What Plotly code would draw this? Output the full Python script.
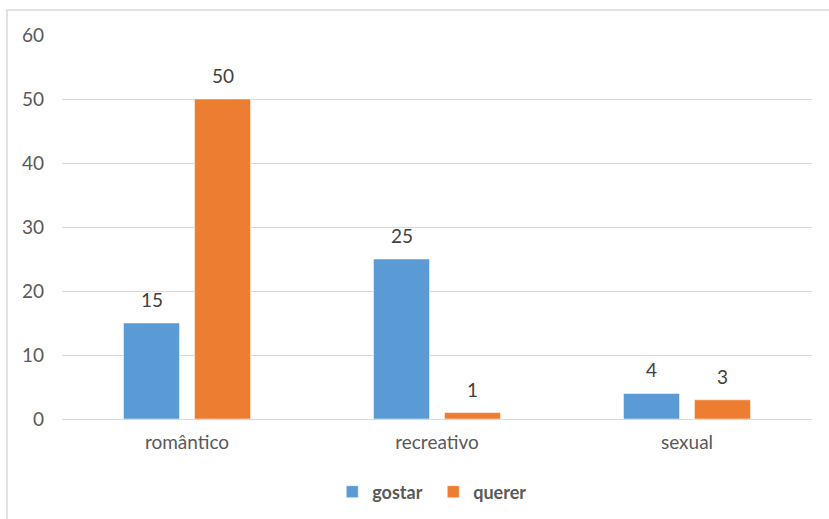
import plotly.graph_objects as go

categories = ["romântico", "recreativo", "sexual"]
gostar = [15, 25, 4]
querer = [50, 1, 3]
y_ticks = [0, 10, 20, 30, 40, 50, 60]

FONT = "Lato"
TEXT_COLOR = "#595959"
LABEL_COLOR = "#404040"
SIZE = 19

fig = go.Figure()
fig.add_trace(go.Bar(
    name="gostar", x=categories, y=gostar,
    marker=dict(color="#5B9BD5", line=dict(color="#ffffff", width=0.5)),
))
fig.add_trace(go.Bar(
    name="querer", x=categories, y=querer,
    marker=dict(color="#ED7D31", line=dict(color="#ffffff", width=0.5)),
))

# value labels above each bar, offset to the bar's slot within the group
for values, shift in ((gostar, -35.5), (querer, 35.5)):
    for cat, v in zip(categories, values):
        fig.add_annotation(
            x=cat, y=v, text=str(v), showarrow=False,
            xshift=shift, yshift=10, yanchor="bottom",
            font=dict(family=FONT, size=SIZE, color=LABEL_COLOR),
        )

fig.update_layout(
    width=829, height=519,
    margin=dict(l=62, r=17, t=35, b=100, autoexpand=False),
    paper_bgcolor="white", plot_bgcolor="white",
    barmode="group", bargap=0.432, bargroupgap=0.211,
    font=dict(family=FONT, size=SIZE, color=TEXT_COLOR),
    showlegend=True,
    legend=dict(
        orientation="h", x=0.495, xanchor="center", y=-0.142, yanchor="top",
        font=dict(family=FONT, size=18, color=TEXT_COLOR, weight="bold"),
        itemwidth=30, traceorder="normal", tracegroupgap=0,
        entrywidth=56, entrywidthmode="pixels",
    ),
)
fig.update_yaxes(
    range=[0, 60], tickvals=y_ticks, showgrid=True, gridcolor="#d9d9d9",
    gridwidth=1, zeroline=True, zerolinecolor="#d9d9d9", zerolinewidth=1,
    showline=False, ticks="", ticklabelstandoff=17,
    tickfont=dict(family=FONT, size=SIZE, color=TEXT_COLOR),
)
fig.update_xaxes(
    showline=False, ticks="", ticklabelstandoff=10,
    tickfont=dict(family=FONT, size=SIZE, color=TEXT_COLOR),
)

# chart frame
fig.add_shape(
    type="rect", xref="paper", yref="paper",
    x0=-0.0733, x1=1.06, y0=-0.32, y1=1.065,
    line=dict(color="#d9d9d9", width=1.5), fillcolor="rgba(0,0,0,0)", layer="below",
)

fig.write_html("out.html")
